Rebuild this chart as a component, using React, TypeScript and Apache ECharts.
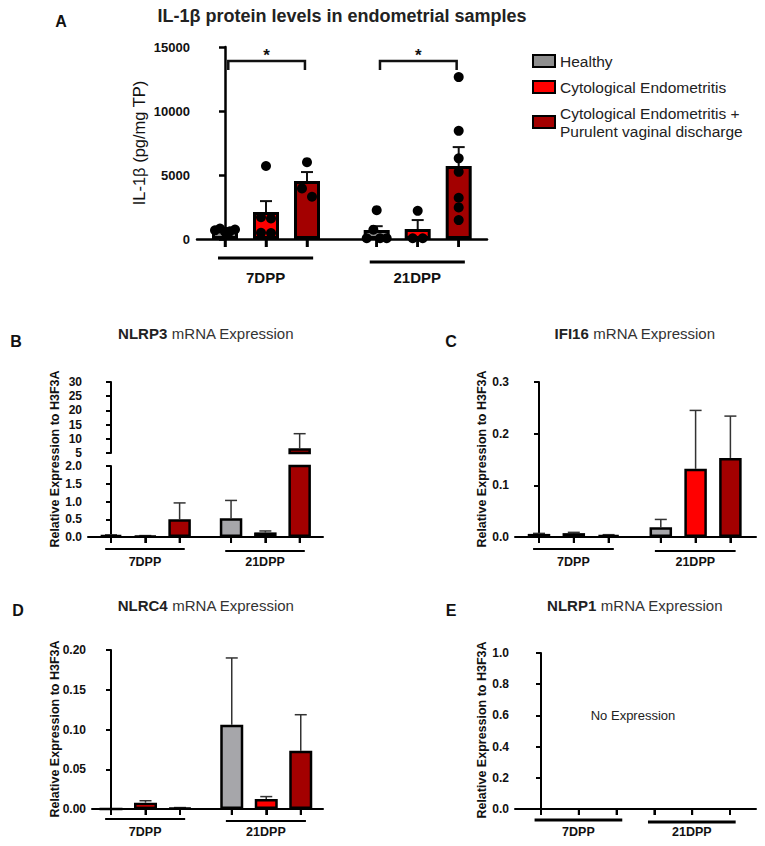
import React, { useEffect, useRef } from "react";
import * as echarts from "echarts";

// ---------------- DATA ----------------
const GROUPS = ["7DPP", "21DPP"];
const CONDITIONS = [
  "Healthy",
  "Cytological Endometritis",
  "Cytological Endometritis + Purulent vaginal discharge",
];

// Panel A: IL-1β protein (pg/mg TP); each pair = [7DPP, 21DPP]
const IL1B_TICKS = [0, 5000, 10000, 15000];
const IL1B_MEAN_HEALTHY = [700, 700];
const IL1B_MEAN_CE = [2100, 780];
const IL1B_MEAN_CEPVD = [4530, 5700];
const IL1B_SEM_HEALTHY = [120, 300];
const IL1B_SEM_CE = [860, 700];
const IL1B_SEM_CEPVD = [700, 1480];
const IL1B_DOTS_HEALTHY_7DPP = [680, 820, 560, 600, 740];
const IL1B_DOTS_HEALTHY_21DPP = [2250, 60, 720, 60, 60];
const IL1B_DOTS_CE_7DPP = [5700, 1700, 1600, 480, 470];
const IL1B_DOTS_CE_21DPP = [2200, 60, 60];
const IL1B_DOTS_CEPVD_7DPP = [6000, 3950, 3300];
const IL1B_DOTS_CEPVD_21DPP = [12650, 8450, 6300, 5250, 3220, 2470, 1480];
const IL1B_SIGNIF = ["*", "*"];
const IL1B_BRACKET_Y = [13900, 13900];

// Panel B: NLRP3 relative expression (broken axis)
const NLRP3_TICKS_LOW = [0, 0.5, 1.0, 1.5, 2.0];
const NLRP3_TICKS_HIGH = [5, 10, 15, 20, 25, 30];
const NLRP3_MEAN_HEALTHY = [0.05, 0.53];
const NLRP3_MEAN_CE = [0.03, 0.13];
const NLRP3_MEAN_CEPVD = [0.5, 6.7];
const NLRP3_SEM_HEALTHY = [0.01, 0.5];
const NLRP3_SEM_CE = [0.01, 0.04];
const NLRP3_SEM_CEPVD = [0.46, 5.1];

// Panel C: IFI16
const IFI16_TICKS = [0, 0.1, 0.2, 0.3];
const IFI16_MEAN_HEALTHY = [0.006, 0.019];
const IFI16_MEAN_CE = [0.0075, 0.132];
const IFI16_MEAN_CEPVD = [0.004, 0.153];
const IFI16_SEM_HEALTHY = [0.001, 0.015];
const IFI16_SEM_CE = [0.0015, 0.113];
const IFI16_SEM_CEPVD = [0.0005, 0.081];

// Panel D: NLRC4
const NLRC4_TICKS = [0, 0.05, 0.1, 0.15, 0.2];
const NLRC4_MEAN_HEALTHY = [0, 0.106];
const NLRC4_MEAN_CE = [0.008, 0.0126];
const NLRC4_MEAN_CEPVD = [0.0015, 0.0734];
const NLRC4_SEM_HEALTHY = [0, 0.084];
const NLRC4_SEM_CE = [0.0024, 0.003];
const NLRC4_SEM_CEPVD = [0.0003, 0.0452];

// Panel E: NLRP1 (no expression)
const NLRP1_TICKS = [0, 0.2, 0.4, 0.6, 0.8, 1.0];

// ---------------- STYLE ----------------
const FONT = "'Liberation Sans', Arial, Helvetica, sans-serif";
const COL_HEALTHY_A = "#8e8e8e";
const COL_HEALTHY = "#a6a6aa";
const COL_CE = "#ff0000";
const COL_CEPVD = "#a30000";
const INK = "#111";

type Layout = {
  left: number;
  top: number;
  width: number;
  height: number;
  firstPx: number;
  unitPx: number;
  gap: number;
};

function buildOption() {
  const grids: any[] = [];
  const xAxes: any[] = [];
  const yAxes: any[] = [];
  const series: any[] = [];
  const graphics: any[] = [];

  const pos = (L: Layout, g: number, c: number) => g * L.gap + c;
  const positions = (L: Layout) => {
    const out: number[] = [];
    GROUPS.forEach((_g, g) => CONDITIONS.forEach((_c, c) => out.push(pos(L, g, c))));
    return out;
  };

  function addGrid(L: Layout, ticks: number[], labelFmt: (v: number) => string, opts: any) {
    grids.push({ left: L.left, top: L.top, width: L.width, height: L.height, containLabel: false });
    const gi = grids.length - 1;
    const xMin = (L.left - L.firstPx) / L.unitPx;
    const xMax = (L.left + L.width - L.firstPx) / L.unitPx;
    const showX = opts.showX !== false;
    xAxes.push({
      gridIndex: gi,
      type: "value",
      min: xMin,
      max: xMax,
      show: showX,
      axisLine: { show: true, onZero: false, lineStyle: { color: "#000", width: opts.axisW } },
      axisTick: {
        show: showX,
        customValues: positions(L),
        length: opts.xTickLen,
        lineStyle: { color: "#000", width: opts.axisW },
      },
      axisLabel: { show: false },
      splitLine: { show: false },
    });
    yAxes.push({
      gridIndex: gi,
      type: "value",
      min: ticks[0],
      max: ticks[ticks.length - 1],
      interval: ticks[1] - ticks[0],
      axisLine: { show: true, lineStyle: { color: "#000", width: opts.axisW } },
      axisTick: { show: true, length: opts.tickLen, lineStyle: { color: "#000", width: opts.axisW } },
      axisLabel: {
        color: INK,
        fontFamily: FONT,
        fontWeight: "bold",
        fontSize: opts.labelSize,
        margin: opts.labelMargin,
        formatter: labelFmt,
      },
      splitLine: { show: false },
    });
    return gi;
  }

  function barSeries(gi: number, c: number, color: string, data: number[][], bw: number, border: number) {
    series.push({
      type: "bar",
      name: CONDITIONS[c],
      xAxisIndex: gi,
      yAxisIndex: gi,
      barWidth: bw,
      barGap: "-100%",
      clip: true,
      z: 2,
      silent: true,
      itemStyle: { color, borderColor: "#000", borderWidth: border },
      data,
    });
  }

  function bars(gi: number, L: Layout, means: number[][], colors: string[], bw: number, border: number) {
    means.forEach((vals, c) => barSeries(gi, c, colors[c], vals.map((v, g) => [pos(L, g, c), v]), bw, border));
  }

  function errors(gi: number, L: Layout, means: number[][], sems: number[][], color: string, lw: number, cap: number, keep: (m: number) => boolean) {
    const data: number[][] = [];
    means.forEach((vals, c) =>
      vals.forEach((m, g) => {
        if (keep(m) && sems[c][g] > 0) data.push([pos(L, g, c), m, m + sems[c][g]]);
      })
    );
    series.push({
      type: "custom",
      xAxisIndex: gi,
      yAxisIndex: gi,
      z: 1,
      silent: true,
      data,
      renderItem: (_p: any, api: any) => {
        const x = api.value(0);
        const a = api.coord([x, api.value(1)]);
        const b = api.coord([x, api.value(2)]);
        return {
          type: "group",
          children: [
            { type: "line", shape: { x1: a[0], y1: a[1], x2: b[0], y2: b[1] }, style: { stroke: color, lineWidth: lw } },
            { type: "line", shape: { x1: b[0] - cap, y1: b[1], x2: b[0] + cap, y2: b[1] }, style: { stroke: color, lineWidth: lw } },
          ],
        };
      },
    });
  }

  // x-axis ticks under each bar position
  function xTicks(gi: number, L: Layout, y0: number, len: number, lw: number) {
    series.push({
      type: "custom",
      xAxisIndex: gi,
      yAxisIndex: gi,
      z: 10,
      data: positions(L).map((x) => [x, y0]),
      renderItem: (_p: any, api: any) => {
        const a = api.coord([api.value(0), api.value(1)]);
        return {
          type: "group",
          children: [
            { type: "line", shape: { x1: a[0], y1: a[1], x2: a[0], y2: a[1] + len }, style: { stroke: "#000", lineWidth: lw } },
          ],
        };
      },
    });
  }

  function groupLabels(gi: number, L: Layout, y0: number, lineDy: number[], labelDy: number, lw: number, fs: number) {
    series.push({
      type: "custom",
      xAxisIndex: gi,
      yAxisIndex: gi,
      z: 3,
      silent: true,
      data: GROUPS.map((_g, g) => [pos(L, g, 0) - 0.17, pos(L, g, 2) + 0.15, g]),
      renderItem: (_p: any, api: any) => {
        const a = api.coord([api.value(0), y0]);
        const b = api.coord([api.value(1), y0]);
        const g = api.value(2);
        const ly = a[1] + lineDy[g];
        return {
          type: "group",
          children: [
            { type: "line", shape: { x1: a[0], y1: ly, x2: b[0], y2: ly }, style: { stroke: "#000", lineWidth: lw } },
            {
              type: "text",
              x: (a[0] + b[0]) / 2,
              y: a[1] + labelDy,
              style: {
                text: GROUPS[g],
                fill: INK,
                fontFamily: FONT,
                fontWeight: "bold",
                fontSize: fs,
                align: "center",
                verticalAlign: "middle",
                textAlign: "center",
                textVerticalAlign: "middle",
              },
            },
          ],
        };
      },
    });
  }

  function swarm(values: number[], thresh: number, maxSpread: number, stepPx: number) {
    const idx = values.map((_v, i) => i).sort((a, b) => values[a] - values[b]);
    const rows: number[][] = [];
    for (const i of idx) {
      const row = rows[rows.length - 1];
      if (row && values[i] - values[row[0]] < thresh) row.push(i);
      else rows.push([i]);
    }
    const off = new Array(values.length).fill(0);
    rows.forEach((row) => {
      row.sort((a, b) => a - b);
      const n = row.length;
      const step = n > 1 ? Math.min(stepPx, (2 * maxSpread) / (n - 1)) : 0;
      row.forEach((i, k) => {
        off[i] = (k - (n - 1) / 2) * step;
      });
    });
    return off;
  }

  function text(x: number, y: number, t: string, fs: number, weight: string, extra: any = {}) {
    graphics.push({
      type: "text",
      x,
      y,
      rotation: extra.rotation || 0,
      silent: true,
      style: {
        text: t,
        fill: extra.fill || INK,
        fontFamily: FONT,
        fontSize: fs,
        fontWeight: weight,
        align: "center",
        verticalAlign: "middle",
        textAlign: "center",
        textVerticalAlign: "middle",
        rich: extra.rich,
      },
    });
  }

  const richTitle = (fs: number) => ({
    b: { fontFamily: FONT, fontSize: fs, fontWeight: "bold", fill: "#222" },
    r: { fontFamily: FONT, fontSize: fs, fontWeight: "normal", fill: "#333" },
  });

  // ===== Panel A =====
  const LA: Layout = { left: 197, top: 47, width: 290, height: 192, firstPx: 225, unitPx: 41, gap: 3.7 };
  const gA = addGrid(LA, IL1B_TICKS, (v) => String(v), { axisW: 2.5, tickLen: 6, xTickLen: 8, labelSize: 13, labelMargin: 7 });
  const meansA = [IL1B_MEAN_HEALTHY, IL1B_MEAN_CE, IL1B_MEAN_CEPVD];
  const semsA = [IL1B_SEM_HEALTHY, IL1B_SEM_CE, IL1B_SEM_CEPVD];
  errors(gA, LA, meansA, semsA, "#111", 2, 6, () => true);
  bars(gA, LA, meansA, [COL_HEALTHY_A, COL_CE, COL_CEPVD], 26, 3);
  const dotsA = [
    [IL1B_DOTS_HEALTHY_7DPP, IL1B_DOTS_HEALTHY_21DPP],
    [IL1B_DOTS_CE_7DPP, IL1B_DOTS_CE_21DPP],
    [IL1B_DOTS_CEPVD_7DPP, IL1B_DOTS_CEPVD_21DPP],
  ];
  const dotData: number[][] = [];
  dotsA.forEach((byGroup, c) =>
    byGroup.forEach((vals, g) => {
      const off = swarm(vals, 700, 10, 10);
      vals.forEach((v, i) => dotData.push([pos(LA, g, c) + off[i] / LA.unitPx, v]));
    })
  );
  series.push({
    type: "scatter",
    xAxisIndex: gA,
    yAxisIndex: gA,
    symbol: "circle",
    symbolSize: 10,
    z: 4,
    silent: true,
    itemStyle: { color: "#000", opacity: 1 },
    data: dotData,
  });
  xTicks(gA, LA, 0, 8, 2.5);
  groupLabels(gA, LA, 0, [19, 23], 38, 3, 15);
  series.push({
    type: "custom",
    xAxisIndex: gA,
    yAxisIndex: gA,
    z: 4,
    silent: true,
    data: GROUPS.map((_g, g) => [pos(LA, g, 0) + 0.08, pos(LA, g, 2) - 0.05, IL1B_BRACKET_Y[g], g]),
    renderItem: (_p: any, api: any) => {
      const a = api.coord([api.value(0), api.value(2)]);
      const b = api.coord([api.value(1), api.value(2)]);
      return {
        type: "group",
        children: [
          {
            type: "polyline",
            shape: { points: [[a[0], a[1] + 9], [a[0], a[1]], [b[0], b[1]], [b[0], b[1] + 9]] },
            style: { stroke: "#111", lineWidth: 2.5, fill: null },
          },
          {
            type: "text",
            x: (a[0] + b[0]) / 2,
            y: a[1] - 6,
            style: {
              text: IL1B_SIGNIF[api.value(3)],
              fill: INK,
              fontFamily: FONT,
              fontWeight: "bold",
              fontSize: 17,
              align: "center",
              verticalAlign: "middle",
              textAlign: "center",
              textVerticalAlign: "middle",
            },
          },
        ],
      };
    },
  });
  text(61, 21, "A", 16, "bold");
  text(342, 16, "IL-1β protein levels in endometrial samples", 18, "bold", { fill: "#222" });
  text(139, 143, "IL-1β (pg/mg TP)", 16.5, "normal", { rotation: Math.PI / 2 });

  // ===== Panel B (broken axis) =====
  const LB: Layout = { left: 88, top: 466, width: 235, height: 71, firstPx: 111, unitPx: 34.3, gap: 3.5 };
  const LBu: Layout = { ...LB, top: 382 };
  const small = { axisW: 2, tickLen: 5, xTickLen: 6, labelSize: 12, labelMargin: 6 };
  const gB = addGrid(LB, NLRP3_TICKS_LOW, (v) => v.toFixed(1), small);
  const gBu = addGrid(LBu, NLRP3_TICKS_HIGH, (v) => String(v), { ...small, showX: false });
  const meansB = [NLRP3_MEAN_HEALTHY, NLRP3_MEAN_CE, NLRP3_MEAN_CEPVD];
  const semsB = [NLRP3_SEM_HEALTHY, NLRP3_SEM_CE, NLRP3_SEM_CEPVD];
  const colsB = [COL_HEALTHY, COL_CE, COL_CEPVD];
  const lowMax = NLRP3_TICKS_LOW[NLRP3_TICKS_LOW.length - 1];
  const highMin = NLRP3_TICKS_HIGH[0];
  errors(gB, LB, meansB, semsB, "#333", 1.5, 6, (m) => m <= lowMax);
  bars(gB, LB, meansB, colsB, 22.5, 2.5);
  errors(gBu, LBu, meansB, semsB, "#333", 1.5, 6, (m) => m > highMin);
  meansB.forEach((vals, c) => {
    const data = vals.map((v, g) => [pos(LBu, g, c), v]).filter((d) => d[1] > highMin);
    if (data.length) barSeries(gBu, c, colsB[c], data, 22.5, 2.5);
  });
  xTicks(gB, LB, 0, 6, 2);
  groupLabels(gB, LB, 0, [12, 14], 25, 2.2, 12.5);
  text(16, 341, "B", 16, "bold");
  text(206, 333, "{b|NLRP3}{r| mRNA Expression}", 15, "normal", { rich: richTitle(15) });
  text(55, 459, "Relative Expression to H3F3A", 12.5, "bold", { rotation: Math.PI / 2 });

  // ===== Panel C =====
  const LC: Layout = { left: 515, top: 382, width: 241, height: 155, firstPx: 539, unitPx: 34.8, gap: 3.5 };
  const gC = addGrid(LC, IFI16_TICKS, (v) => v.toFixed(1), small);
  const meansC = [IFI16_MEAN_HEALTHY, IFI16_MEAN_CE, IFI16_MEAN_CEPVD];
  const semsC = [IFI16_SEM_HEALTHY, IFI16_SEM_CE, IFI16_SEM_CEPVD];
  errors(gC, LC, meansC, semsC, "#333", 1.5, 6, () => true);
  bars(gC, LC, meansC, colsB, 22.5, 2.5);
  xTicks(gC, LC, 0, 6, 2);
  groupLabels(gC, LC, 0, [12, 14], 25, 2.2, 12.5);
  text(451, 341, "C", 16, "bold");
  text(635, 333, "{b|IFI16}{r| mRNA Expression}", 15, "normal", { rich: richTitle(15) });
  text(482, 459, "Relative Expression to H3F3A", 12.5, "bold", { rotation: Math.PI / 2 });

  // ===== Panel D =====
  const LD: Layout = { left: 92, top: 650, width: 231, height: 159, firstPx: 111, unitPx: 34.5, gap: 3.5 };
  const gD = addGrid(LD, NLRC4_TICKS, (v) => v.toFixed(2), small);
  const meansD = [NLRC4_MEAN_HEALTHY, NLRC4_MEAN_CE, NLRC4_MEAN_CEPVD];
  const semsD = [NLRC4_SEM_HEALTHY, NLRC4_SEM_CE, NLRC4_SEM_CEPVD];
  errors(gD, LD, meansD, semsD, "#333", 1.5, 6, () => true);
  bars(gD, LD, meansD, colsB, 23, 2.5);
  xTicks(gD, LD, 0, 6, 2);
  groupLabels(gD, LD, 0, [10, 12], 23, 2.2, 12.5);
  text(18, 610, "D", 16, "bold");
  text(206, 605, "{b|NLRC4}{r| mRNA Expression}", 15, "normal", { rich: richTitle(15) });
  text(55, 729, "Relative Expression to H3F3A", 12.5, "bold", { rotation: Math.PI / 2 });

  // ===== Panel E =====
  const LE: Layout = { left: 515, top: 653, width: 241, height: 156, firstPx: 541, unitPx: 37.8, gap: 3 };
  const gE = addGrid(LE, NLRP1_TICKS, (v) => v.toFixed(1), small);
  xTicks(gE, LE, 0, 6, 2);
  groupLabels(gE, LE, 0, [11, 13], 23, 3, 12.5);
  text(451, 610, "E", 16, "bold");
  text(635, 605, "{b|NLRP1}{r| mRNA Expression}", 15, "normal", { rich: richTitle(15) });
  text(482, 730, "Relative Expression to H3F3A", 12.5, "bold", { rotation: Math.PI / 2 });
  text(633, 715, "No Expression", 13, "normal", { fill: "#222" });

  return {
    animation: false,
    backgroundColor: "#fff",
    grid: grids,
    xAxis: xAxes,
    yAxis: yAxes,
    legend: {
      data: CONDITIONS,
      orient: "vertical",
      left: 527,
      top: 47,
      itemWidth: 22,
      itemHeight: 12,
      itemGap: 8,
      icon: "rect",
      selectedMode: false,
      itemStyle: { borderColor: "#000", borderWidth: 2 },
      textStyle: { fontFamily: FONT, fontSize: 15.5, color: "#222", lineHeight: 18 },
      formatter: (name: string) => name.replace("+ ", "+\n"),
    },
    graphic: graphics,
    series,
  };
}

export default function App() {
  const ref = useRef<HTMLDivElement>(null);
  useEffect(() => {
    if (!ref.current) return;
    const chart = echarts.init(ref.current, null, { renderer: "svg" });
    chart.setOption(buildOption() as any);
    return () => chart.dispose();
  }, []);
  return (
    <div
      ref={ref}
      style={{ position: "fixed", left: 0, top: 0, width: 765, height: 846, background: "#fff" }}
    />
  );
}
